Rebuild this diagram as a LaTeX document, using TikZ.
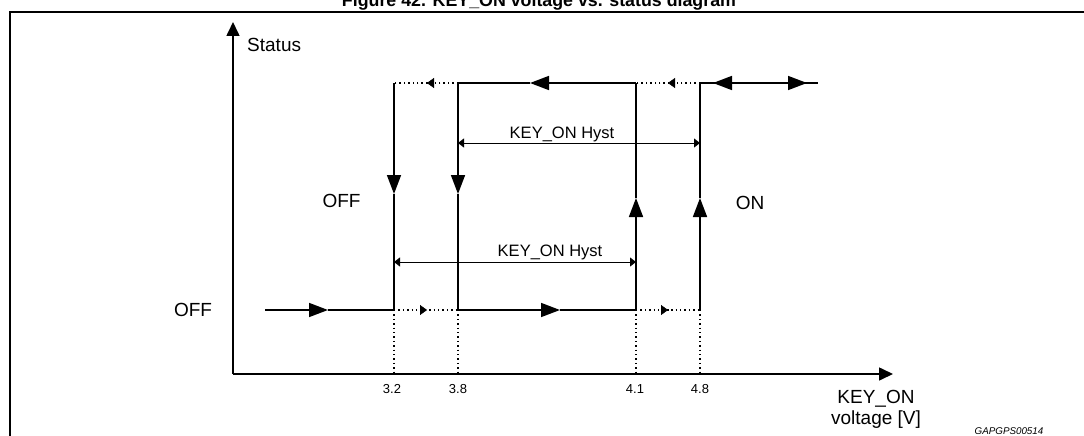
\documentclass[tikz,border=0pt]{standalone}
\usepackage{fontspec}
\setmainfont{Liberation Sans}
\usetikzlibrary{arrows.meta,calc}
\begin{document}
\begin{tikzpicture}[x=1pt,y=-1pt,
  mainline/.style={line width=1.6pt},
  axisline/.style={line width=1.6pt},
  dotline/.style={line width=1.4pt, dash pattern=on 1.4pt off 3pt},
  thinline/.style={line width=0.9pt},
  bigarr/.style={-{Triangle[length=19pt,width=14pt]}},
  axarr/.style={-{Triangle[length=14pt,width=13pt]}},
  smallarr/.style={-{Triangle[length=7pt,width=10pt]}},
  hystarr/.style={{Triangle[length=6pt,width=9pt]}-{Triangle[length=6pt,width=9pt]}},
  lbl/.style={inner sep=0pt, anchor=base, font=\fontsize{19}{22}\selectfont},
  hystlbl/.style={inner sep=0pt, anchor=base, font=\fontsize{16.5}{20}\selectfont},
  ticklbl/.style={inner sep=0pt, anchor=base, font=\fontsize{13}{15}\selectfont},
  codelbl/.style={inner sep=0pt, anchor=base, font=\fontsize{9.8}{12}\selectfont\itshape},
  titlelbl/.style={inner sep=0pt, anchor=base, font=\fontsize{17.8}{21}\selectfont\bfseries}]
\useasboundingbox (0,0) rectangle (1084,436);
\clip (0,0) rectangle (1084,436);
\fill[white] (0,0) rectangle (1084,436);

% title and frame
\node[titlelbl] (title) at (539,7) {Figure 42. KEY\_ON voltage vs. status diagram};
\coordinate (frTL) at (10,12);
\coordinate (frTR) at (1090,12);
\coordinate (frBL) at (10,440);
\draw[line width=1.8pt] (frBL) -- (frTL) -- (frTR);

% axes
\coordinate (O) at (233,374);
\coordinate (Ytip) at (233,22);
\coordinate (Xtip) at (893,374);
\draw[axisline,axarr] (O) -- (Ytip);
\draw[axisline,axarr] (O) -- (Xtip);

% coordinates
\coordinate (L0) at (265,310);
\coordinate (aL) at (394,310); \coordinate (aU) at (394,83); \coordinate (aX) at (394,374);
\coordinate (bL) at (458,310); \coordinate (bU) at (458,83); \coordinate (bX) at (458,374);
\coordinate (cL) at (636,310); \coordinate (cU) at (636,83); \coordinate (cX) at (636,374);
\coordinate (dL) at (700,310); \coordinate (dU) at (700,83); \coordinate (dX) at (700,374);
\coordinate (U1) at (818,83);

% lower level solid
\coordinate (t1) at (328,310);
\draw[mainline,bigarr] (L0) -- (t1);
\draw[mainline] (t1) -- (aL);
\coordinate (t2) at (560,310);
\draw[mainline,bigarr] (bL) -- (t2);
\draw[mainline] (t2) -- (cL);

% upper level solid
\coordinate (t3) at (530,83);
\draw[mainline,bigarr] (cU) -- (t3);
\draw[mainline] (t3) -- (bU);
\coordinate (t4) at (713,83);
\coordinate (t5) at (807,83);
\draw[mainline,bigarr] (t5) -- (t4);
\draw[mainline] (t4) -- (dU);
\draw[mainline,bigarr] (t4) -- (t5);
\draw[mainline] (t5) -- (U1);

% verticals
\coordinate (v1) at (394,194);
\draw[mainline,bigarr] (aU) -- (v1);
\draw[mainline] (v1) -- (aL);
\coordinate (v2) at (458,194);
\draw[mainline,bigarr] (bU) -- (v2);
\draw[mainline] (v2) -- (bL);
\coordinate (v3) at (636,198);
\draw[mainline,bigarr] (cL) -- (v3);
\draw[mainline] (v3) -- (cU);
\coordinate (v4) at (700,198);
\draw[mainline,bigarr] (dL) -- (v4);
\draw[mainline] (v4) -- (dU);

% dotted horizontals
\coordinate (s1) at (427,83);
\draw[dotline] (bU) -- (s1) -- (aU);
\draw[smallarr] ($(s1)+(3,0)$) -- (s1);
\coordinate (s2) at (668,83);
\draw[dotline] (dU) -- (s2) -- (cU);
\draw[smallarr] ($(s2)+(3,0)$) -- (s2);
\coordinate (s3) at (427,310);
\draw[dotline] (aL) -- (s3) -- (bL);
\draw[smallarr] ($(s3)-(3,0)$) -- (s3);
\coordinate (s4) at (668,310);
\draw[dotline] (cL) -- (s4) -- (dL);
\draw[smallarr] ($(s4)-(3,0)$) -- (s4);

% dotted verticals
\draw[dotline] (aL) -- (aX);
\draw[dotline] (bL) -- (bX);
\draw[dotline] (cL) -- (cX);
\draw[dotline] (dL) -- (dX);

% hysteresis
\coordinate (h1a) at (458,143); \coordinate (h1b) at (700,143);
\draw[thinline,hystarr] (h1a) -- (h1b);
\coordinate (h2a) at (394,262); \coordinate (h2b) at (636,262);
\draw[thinline,hystarr] (h2a) -- (h2b);
\node[hystlbl] (hyst1) at (562,138) {KEY\_ON Hyst};
\node[hystlbl] (hyst2) at (550,256) {KEY\_ON Hyst};

% labels
\node[lbl, anchor=base west] (status) at (247,52) {Status};
\node[lbl] (off1) at (341.5,207) {OFF};
\node[lbl] (on) at (750,209) {ON};
\node[lbl] (off2) at (193,316) {OFF};
\node[ticklbl] (k32) at (392,393) {3.2};
\node[ticklbl] (k38) at (458,393) {3.8};
\node[ticklbl] (k41) at (635,393) {4.1};
\node[ticklbl] (k48) at (700,393) {4.8};
\node[lbl] (xl1) at (876,403) {KEY\_ON};
\node[lbl] (xl2) at (876,424) {voltage [V]};
\node[codelbl] (code) at (1009,434) {GAPGPS00514};
\end{tikzpicture}
\end{document}
